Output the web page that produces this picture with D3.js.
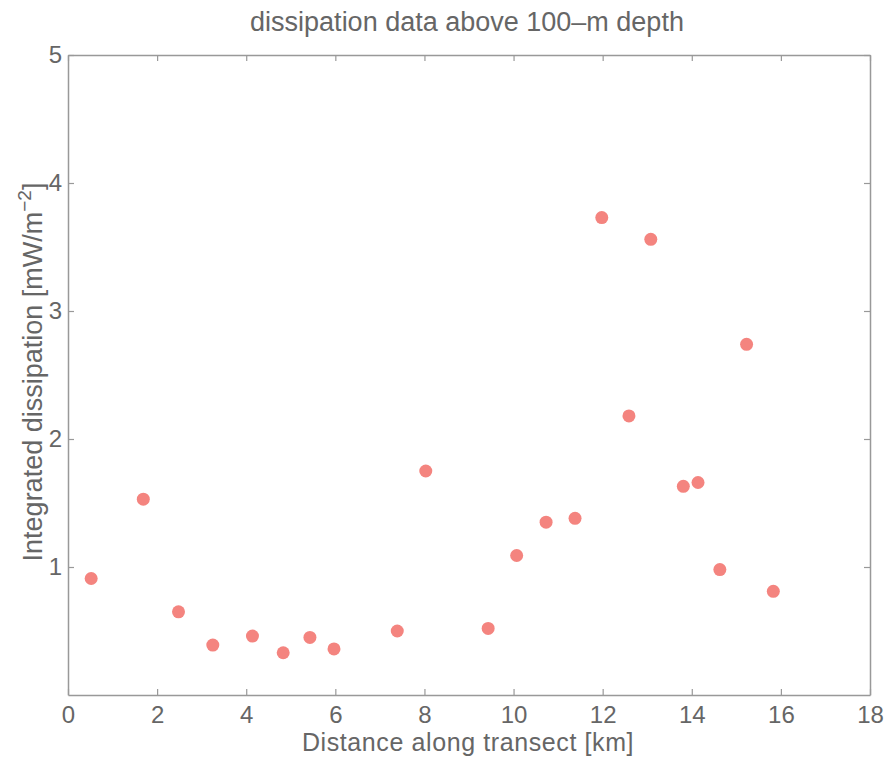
<!DOCTYPE html>
<html>
<head>
<meta charset="utf-8">
<script src="https://cdn.jsdelivr.net/npm/d3@7"></script>
<style>
  body { margin: 0; background: #fff; }
  text { font-family: "Liberation Sans", Arial, sans-serif; fill: #666; }
</style>
</head>
<body>
<script>
// dissipation scatter
var width = 887;
var height = 759;

var margin = {top: 55, left: 68, right: 17, bottom: 64};

// data
var distance = [0.52, 1.69, 2.48, 3.25, 4.14, 4.83, 5.43, 5.97, 7.39, 8.03,
                9.43, 10.07, 10.73, 11.38, 11.98, 12.59, 13.08, 13.81, 14.14, 14.63, 15.23, 15.83];
var dissipation = [0.91, 1.53, 0.65, 0.39, 0.46, 0.33, 0.45, 0.36, 0.50, 1.75,
                   0.52, 1.09, 1.35, 1.38, 3.73, 2.18, 3.56, 1.63, 1.66, 0.98, 2.74, 0.81];
var xTicks = [0, 2, 4, 6, 8, 10, 12, 14, 16, 18];
var yTicks = [1, 2, 3, 4, 5];

var data = distance.map(function(d, i) { return {x: d, y: dissipation[i]}; });

var svg = d3.select("body")
  .append("svg")
  .attr("width", width)
  .attr("height", height);

var xScale = d3.scaleLinear()
  .domain([0, 18])
  .range([margin.left, width - margin.right]);

var yScale = d3.scaleLinear()
  .domain([0, 5])
  .range([height - margin.bottom, margin.top]);

function styleAxis(g) {
  g.select(".domain").attr("stroke", "#999").attr("stroke-width", 1.5);
  g.selectAll(".tick line").attr("stroke", "#999").attr("stroke-width", 1.2);
  g.selectAll(".tick text").attr("fill", "#666").style("font-size", "24px")
    .style("font-family", "Liberation Sans, Arial, sans-serif");
}

// bottom axis
svg.append("g")
  .attr("transform", "translate(0," + (height - margin.bottom) + ")")
  .call(d3.axisBottom(xScale).tickValues(xTicks).tickFormat(d3.format("d"))
    .tickSizeInner(-6).tickSizeOuter(0).tickPadding(11))
  .call(styleAxis);

// top axis (no labels)
svg.append("g")
  .attr("transform", "translate(0," + margin.top + ")")
  .call(d3.axisTop(xScale).tickValues(xTicks).tickSizeInner(-6).tickSizeOuter(0).tickFormat(""))
  .call(styleAxis);

// left axis
svg.append("g")
  .attr("transform", "translate(" + margin.left + ",0)")
  .call(d3.axisLeft(yScale).tickValues(yTicks).tickFormat(d3.format("d"))
    .tickSizeInner(-6).tickSizeOuter(0).tickPadding(6))
  .call(styleAxis);

// right axis (no labels)
svg.append("g")
  .attr("transform", "translate(" + (width - margin.right) + ",0)")
  .call(d3.axisRight(yScale).tickValues(yTicks).tickSizeInner(-6).tickSizeOuter(0).tickFormat(""))
  .call(styleAxis);

// points
svg.selectAll("circle")
  .data(data)
  .enter()
  .append("circle")
    .attr("cx", function(d) { return xScale(d.x); })
    .attr("cy", function(d) { return yScale(d.y); })
    .attr("r", 6.5)
    .attr("fill", "#f4847f");

// title
svg.append("text")
  .attr("x", 467)
  .attr("y", 31)
  .attr("text-anchor", "middle")
  .style("font-size", "27px")
  .text("dissipation data above 100\u2013m depth");

// x label
svg.append("text")
  .attr("x", 468)
  .attr("y", 751)
  .attr("text-anchor", "middle")
  .style("font-size", "25px")
  .style("letter-spacing", "0.6px")
  .text("Distance along transect [km]");

// y label
var yl = svg.append("text")
  .attr("transform", "translate(42,372) rotate(-90)")
  .attr("text-anchor", "middle")
  .style("font-size", "27px");
yl.append("tspan").text("Integrated dissipation [mW/m");
yl.append("tspan").attr("dy", -11).style("font-size", "19px").text("\u22122");
yl.append("tspan").attr("dy", 11).text("]");
</script>
</body>
</html>
